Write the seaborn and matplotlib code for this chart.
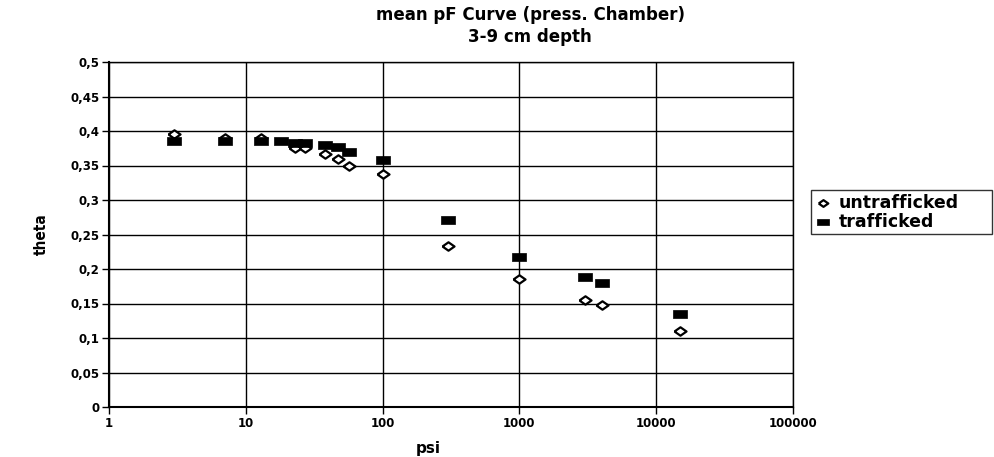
import matplotlib
matplotlib.use("Agg")
import matplotlib.pyplot as plt
from matplotlib.ticker import FixedLocator, FuncFormatter, NullLocator
import seaborn as sns
import pandas as pd

# ---- data ----
psi_untrafficked = [3, 7, 13, 23, 27, 38, 47, 57, 100, 300, 1000, 3000, 4000, 15000]
theta_untrafficked = [0.395, 0.390, 0.390, 0.376, 0.376, 0.366, 0.360, 0.350, 0.337,
                      0.233, 0.186, 0.155, 0.148, 0.110]
psi_trafficked = [3, 7, 13, 18, 23, 27, 38, 47, 57, 100, 300, 1000, 3000, 4000, 15000]
theta_trafficked = [0.386, 0.385, 0.385, 0.385, 0.382, 0.382, 0.380, 0.377, 0.370, 0.358,
                    0.271, 0.217, 0.188, 0.179, 0.135]
x_ticks = [1, 10, 100, 1000, 10000, 100000]
y_ticks = [0, 0.05, 0.1, 0.15, 0.2, 0.25, 0.3, 0.35, 0.4, 0.45, 0.5]
title_text = "mean pF Curve (press. Chamber)\n3-9 cm depth"

sns.set_style("white")
plt.rcParams["font.family"] = ["DejaVu Sans"]
plt.rcParams["font.weight"] = "bold"
plt.rcParams["text.color"] = "black"
plt.rcParams["axes.labelcolor"] = "black"
plt.rcParams["xtick.color"] = "black"
plt.rcParams["ytick.color"] = "black"

df_u = pd.DataFrame({"psi": psi_untrafficked, "theta": theta_untrafficked})
df_t = pd.DataFrame({"psi": psi_trafficked, "theta": theta_trafficked})

fig = plt.figure(figsize=(9.94, 4.57), dpi=100)
ax = fig.add_axes([109 / 994, 50 / 457, 684 / 994, 345 / 457])

diamond = [(-1, 0), (0, 0.7), (1, 0), (0, -0.7), (-1, 0)]
rect = [(-1, -0.62), (1, -0.62), (1, 0.62), (-1, 0.62), (-1, -0.62)]

sns.scatterplot(data=df_u, x="psi", y="theta", ax=ax, marker=diamond, s=75,
                facecolor="white", edgecolor="black", linewidth=1.6,
                label="untrafficked", zorder=3)
sns.scatterplot(data=df_t, x="psi", y="theta", ax=ax, marker=rect, s=100,
                facecolor="black", edgecolor="black", linewidth=0.5,
                label="trafficked", zorder=4)

ax.set_xscale("log")
ax.set_xlim(1, 100000)
ax.set_ylim(0, 0.5)
ax.xaxis.set_major_locator(FixedLocator(x_ticks))
ax.xaxis.set_minor_locator(NullLocator())
ax.yaxis.set_major_locator(FixedLocator(y_ticks))
ax.xaxis.set_major_formatter(FuncFormatter(lambda v, _: "%d" % round(v)))
ax.yaxis.set_major_formatter(FuncFormatter(lambda v, _: ("%g" % v).replace(".", ",")))

ax.grid(True, which="major", color="black", linewidth=1.0)
for sp in ax.spines.values():
    sp.set_color("black")
    sp.set_linewidth(1.0)
ax.spines["left"].set_linewidth(1.5)
ax.spines["bottom"].set_linewidth(1.5)

ax.tick_params(axis="both", which="major", direction="out", length=5, width=1,
               color="black", labelcolor="black", labelsize=8.5,
               left=True, bottom=True)
ax.tick_params(axis="x", pad=2)
ax.tick_params(axis="y", pad=2)
for lab in ax.get_xticklabels() + ax.get_yticklabels():
    lab.set_fontweight("bold")

ax.set_xlabel("psi", fontsize=11, fontweight="bold", color="black")
ax.xaxis.set_label_coords((428 - 109) / 684, -0.1)
ax.set_ylabel("theta", fontsize=11, fontweight="bold", fontstretch="condensed",
              color="black")
ax.yaxis.set_label_coords((49 - 109) / 684, 0.5)

fig.text(530 / 994, 1 - 26 / 457, title_text, ha="center", va="center",
         fontsize=12, fontweight="bold", linespacing=1.35, color="black")

leg = ax.legend(loc="lower left",
                bbox_to_anchor=(811 / 994, 1 - 234 / 457, 181 / 994, 41 / 457),
                bbox_transform=fig.transFigure, mode="expand", frameon=True,
                fancybox=False, edgecolor="black", fontsize=12.5,
                handletextpad=0.4, borderpad=0.2, labelspacing=0.05,
                handlelength=1.0, borderaxespad=0, markerscale=0.8)
leg.get_frame().set_linewidth(1.0)
for t in leg.get_texts():
    t.set_fontweight("bold")
    t.set_color("black")

fig.savefig("out.png", dpi=100)
